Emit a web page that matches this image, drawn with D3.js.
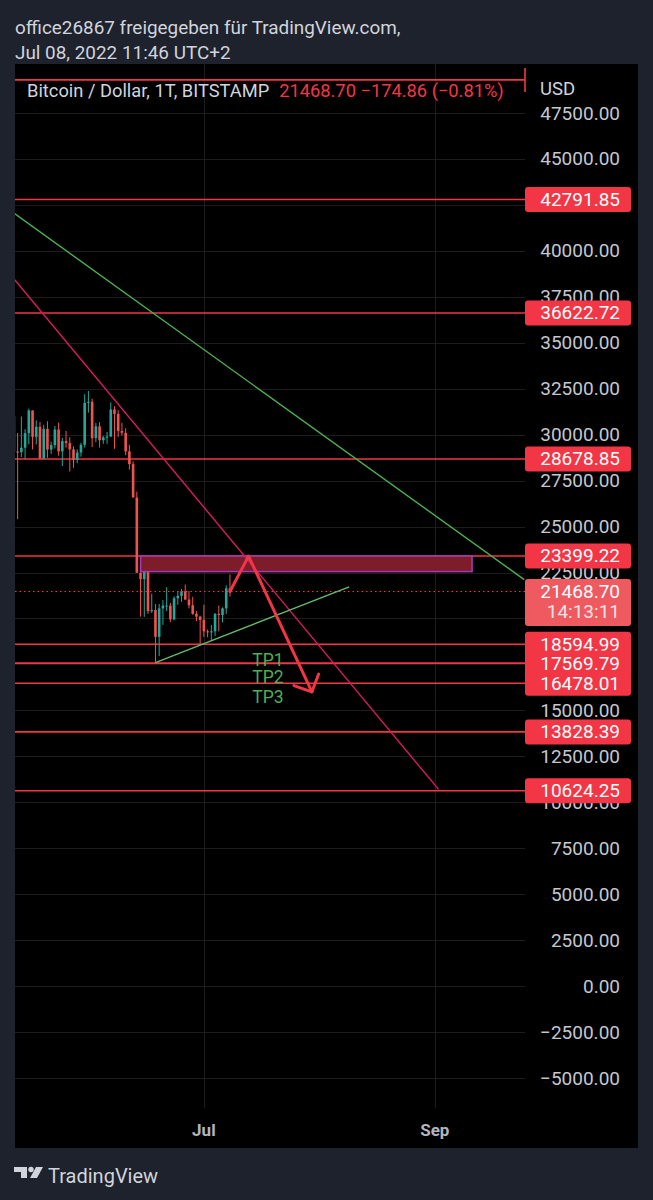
<!DOCTYPE html>
<html>
<head>
<meta charset="utf-8">
<script src="https://cdn.jsdelivr.net/npm/d3@7"></script>
<style>
  body { margin: 0; background: #1e222d; }
  svg { display: block; font-family: Roboto, "Noto Sans", sans-serif; }
</style>
</head>
<body>
<svg width="653" height="1200"></svg>
<script>
// daily candles, BTC/USD Bitstamp
const dates = [
  "2022-05-11","2022-05-12","2022-05-13","2022-05-14","2022-05-15","2022-05-16","2022-05-17","2022-05-18",
  "2022-05-19","2022-05-20","2022-05-21","2022-05-22","2022-05-23","2022-05-24","2022-05-25","2022-05-26",
  "2022-05-27","2022-05-28","2022-05-29","2022-05-30","2022-05-31","2022-06-01","2022-06-02","2022-06-03",
  "2022-06-04","2022-06-05","2022-06-06","2022-06-07","2022-06-08","2022-06-09","2022-06-10","2022-06-11",
  "2022-06-12","2022-06-13","2022-06-14","2022-06-15","2022-06-16","2022-06-17","2022-06-18","2022-06-19",
  "2022-06-20","2022-06-21","2022-06-22","2022-06-23","2022-06-24","2022-06-25","2022-06-26","2022-06-27",
  "2022-06-28","2022-06-29","2022-06-30","2022-07-01","2022-07-02","2022-07-03","2022-07-04","2022-07-05",
  "2022-07-06","2022-07-07","2022-07-08"
];
const open = [
  31010,29080,29050,29290,30080,31320,29880,30430,28700,30310,29190,29430,30280,29090,29650,29540,
  29200,28620,29030,29450,31730,31790,29810,30450,29700,29850,29900,31370,31130,30200,30100,29090,
  28400,26580,22480,22140,22600,20400,20460,19000,20550,20700,20700,19950,21100,21230,21480,21030,
  20720,20250,20100,19920,19300,19250,19300,20250,20190,20550,21640
];
const high = [
  32190,30100,30990,30300,31420,31320,30780,30690,30540,30730,29620,30470,30660,29820,30200,29860,
  29360,29200,29560,32200,32380,31950,30640,30680,29930,30150,31760,31550,31330,30650,30350,29450,
  28550,26900,23300,22750,22980,21350,20780,20790,21000,21700,20850,21200,21500,21600,21850,21500,
  21180,20400,20150,20750,19400,19650,20300,20700,20600,21800,22400
];
const low = [
  27800,25400,28780,28650,29480,29200,29470,28700,28660,28740,28950,29250,28860,28300,29300,28000,
  28200,28450,28800,29300,31200,29320,29590,29300,29500,29500,29880,29230,29880,29950,28880,28100,
  26600,22600,20100,20090,20250,20300,17600,17950,19650,20400,19800,19900,20750,20900,21000,20550,
  20200,19850,18620,19000,18980,18800,19050,19300,19780,20250,21200
];
const close = [
  29080,29050,29290,30080,31320,29880,30430,28700,30310,29190,29430,30280,29090,29650,29540,29200,
  28620,29030,29450,31730,31790,29810,30450,29700,29850,29900,31370,31130,30200,30100,29090,28400,
  26580,22480,22140,22600,20400,20460,19000,20550,20700,20700,19950,21100,21230,21480,21030,20720,
  20250,20100,19920,19300,19250,19300,20250,20190,20550,21640,21468.70
];

const priceTicks = [47500,45000,42500,40000,37500,35000,32500,30000,27500,25000,22500,20000,17500,
  15000,12500,10000,7500,5000,2500,0,-2500,-5000];
const monthTicks = ["2022-07-01","2022-09-01"];
const monthLabels = ["Jul","Sep"];

// horizontal levels drawn by the author
const levels = [42791.85,36622.72,28678.85,23399.22,18594.99,17569.79,16478.01,13828.39,10624.25];
const topLevel = 49300;
const lastPrice = 21468.70;
const countdown = "14:13:11";

// trend lines [date, price]
const redTrend = [["2022-05-11",38480],["2022-09-02",10700]];
const greenTrend = [["2022-05-11",42050],["2022-09-25",22115]];
const supportTrend = [["2022-06-18",17600],["2022-08-09",21720]];
const zone = {from:"2022-06-14", to:"2022-09-11", top:23399.22, bottom:22550};
const arrowPts = [["2022-07-08",21468.70],["2022-07-13",23390],["2022-07-30",16010]];
const tpNames = ["TP1","TP2","TP3"];
const tpPrices = [17410,16480,15400];
const tpDate = "2022-07-14";

const parse = d3.utcParse("%Y-%m-%d");
const svg = d3.select("svg");

const panel = {left:15, right:638, top:64, bottom:1148};
const plotRight = 525;

const x = d3.scaleUtc()
  .domain([new Date(Date.UTC(2022,4,11,7)), new Date(Date.UTC(2022,8,25,5))])
  .range([panel.left, plotRight]);
const y = d3.scaleLinear().domain([-5000, 47500]).range([1078, 113]);

// header
svg.append("text").attr("x", 15).attr("y", 34).attr("fill", "#d1d4dc")
  .attr("font-size", 18.9).text("office26867 freigegeben für TradingView.com,");
svg.append("text").attr("x", 15).attr("y", 59).attr("fill", "#d1d4dc")
  .attr("font-size", 18.9).text("Jul 08, 2022 11:46 UTC+2");

svg.append("rect").attr("x", panel.left).attr("y", panel.top)
  .attr("width", panel.right - panel.left).attr("height", panel.bottom - panel.top)
  .attr("fill", "#000");

svg.append("clipPath").attr("id", "plot").append("rect")
  .attr("x", panel.left).attr("y", panel.top)
  .attr("width", plotRight - panel.left).attr("height", 1108 - panel.top);

// grid
const grid = svg.append("g").attr("stroke", "#1c1c1e").attr("stroke-width", 1);
grid.selectAll(".h").data(priceTicks).join("line")
  .attr("x1", panel.left).attr("x2", plotRight)
  .attr("y1", d => Math.round(y(d)) + 0.5).attr("y2", d => Math.round(y(d)) + 0.5);
grid.selectAll(".v").data(monthTicks).join("line")
  .attr("x1", d => Math.round(x(parse(d))) + 0.5).attr("x2", d => Math.round(x(parse(d))) + 0.5)
  .attr("y1", panel.top).attr("y2", 1108);

// price axis labels
svg.append("g").selectAll("text").data(priceTicks).join("text")
  .attr("x", 620).attr("y", d => y(d) + 6.5)
  .attr("text-anchor", "end").attr("fill", "#c4c7ce").attr("font-size", 19)
  .text(d => d < 0 ? "\u2212" + d3.format(".2f")(-d) : d3.format(".2f")(d));

// time axis labels
svg.append("g").selectAll("text").data(monthTicks).join("text")
  .attr("x", d => x(parse(d))).attr("y", 1136)
  .attr("text-anchor", "middle").attr("fill", "#b2b5be").attr("font-size", 17)
  .attr("font-weight", "bold")
  .text((d, i) => monthLabels[i]);

const plot = svg.append("g").attr("clip-path", "url(#plot)");

// levels
plot.selectAll(".lvl").data(levels).join("line")
  .attr("x1", panel.left).attr("x2", plotRight)
  .attr("y1", d => y(d)).attr("y2", d => y(d))
  .attr("stroke", "#f23645").attr("stroke-width", 1.6);

// candles
const candles = dates.map((d, i) => ({date: parse(d), o: open[i], h: high[i], l: low[i], c: close[i]}));
const cg = plot.append("g").selectAll("g").data(candles).join("g")
  .attr("fill", d => d.c >= d.o ? "#26a69a" : "#ef5350")
  .attr("stroke", d => d.c >= d.o ? "#26a69a" : "#ef5350");
cg.append("line")
  .attr("x1", d => x(d.date)).attr("x2", d => x(d.date))
  .attr("y1", d => y(d.h)).attr("y2", d => y(d.l)).attr("stroke-width", 1);
cg.append("rect")
  .attr("x", d => x(d.date) - 1.3).attr("width", 2.6)
  .attr("y", d => y(Math.max(d.o, d.c)))
  .attr("height", d => Math.max(1, Math.abs(y(d.o) - y(d.c))))
  .attr("stroke", "none");

// last price dotted line
plot.append("line")
  .attr("x1", panel.left).attr("x2", plotRight)
  .attr("y1", y(lastPrice)).attr("y2", y(lastPrice))
  .attr("stroke", "#f23645").attr("stroke-width", 1.2).attr("stroke-dasharray", "1.5,3");

// zone
plot.append("rect")
  .attr("x", x(parse(zone.from))).attr("width", x(parse(zone.to)) - x(parse(zone.from)))
  .attr("y", y(zone.top)).attr("height", y(zone.bottom) - y(zone.top))
  .attr("fill", "#7d1d2a").attr("stroke", "#a73ab8").attr("stroke-width", 1.5);

const line = d3.line().x(d => x(parse(d[0]))).y(d => y(d[1]));

plot.append("path").attr("d", line(redTrend)).attr("fill", "none")
  .attr("stroke", "#d81b60").attr("stroke-width", 1.4);
plot.append("path").attr("d", line(greenTrend)).attr("fill", "none")
  .attr("stroke", "#4caf50").attr("stroke-width", 1.4);
plot.append("path").attr("d", line(supportTrend)).attr("fill", "none")
  .attr("stroke", "#66bb6a").attr("stroke-width", 1.4);

// arrow
plot.append("path").attr("d", line(arrowPts)).attr("fill", "none")
  .attr("stroke", "#f23645").attr("stroke-width", 3).attr("stroke-linejoin", "round")
  .attr("stroke-linecap", "round");
const p1 = arrowPts[1], p2 = arrowPts[2];
const tx = x(parse(p2[0])), ty = y(p2[1]);
const ang = Math.atan2(y(p1[1]) - ty, x(parse(p1[0])) - tx);
const head = [-0.8, 0.8].map(a => [tx + 19 * Math.cos(ang + a), ty + 19 * Math.sin(ang + a)]);
plot.append("path")
  .attr("d", `M${head[0]}L${tx},${ty}L${head[1]}`).attr("fill", "none")
  .attr("stroke", "#f23645").attr("stroke-width", 3).attr("stroke-linejoin", "round")
  .attr("stroke-linecap", "round");

// TP labels
plot.selectAll(".tp").data(tpNames).join("text")
  .attr("x", x(parse(tpDate))).attr("y", (d, i) => y(tpPrices[i]))
  .attr("fill", "#4caf50").attr("font-size", 17.5).text(d => d);

// top line with tick
svg.append("line").attr("x1", panel.left).attr("x2", plotRight)
  .attr("y1", y(topLevel)).attr("y2", y(topLevel))
  .attr("stroke", "#f23645").attr("stroke-width", 1.6);
svg.append("line").attr("x1", plotRight).attr("x2", plotRight)
  .attr("y1", y(topLevel) - 12).attr("y2", y(topLevel) + 12)
  .attr("stroke", "#f23645").attr("stroke-width", 1.6);

// legend
const legend = svg.append("text").attr("x", 27).attr("y", 97).attr("font-size", 18.3);
legend.append("tspan").attr("fill", "#d1d4dc").text("Bitcoin / Dollar, 1T, BITSTAMP");
legend.append("tspan").attr("fill", "#f23645").attr("dx", 10)
  .text(d3.format(".2f")(lastPrice) + "  \u2212174.86 (\u22120.81%)");
svg.append("text").attr("x", 540).attr("y", 95).attr("fill", "#d1d4dc")
  .attr("font-size", 18.5).text("USD");

// level labels
const lab = svg.append("g").selectAll("g").data(levels).join("g");
lab.append("rect").attr("x", plotRight).attr("width", 106)
  .attr("y", d => y(d) - 12.5).attr("height", 25).attr("rx", 3).attr("fill", "#f23645");
lab.append("text").attr("x", 620).attr("y", d => y(d) + 6.5).attr("text-anchor", "end")
  .attr("fill", "#fff").attr("font-size", 19).text(d => d3.format(".2f")(d));

// last price label
svg.append("rect").attr("x", plotRight).attr("width", 106)
  .attr("y", y(lastPrice) - 12.5).attr("height", 47).attr("rx", 3).attr("fill", "#ee5a5f");
svg.append("text").attr("x", 620).attr("y", y(lastPrice) + 6.5).attr("text-anchor", "end")
  .attr("fill", "#fff").attr("font-size", 19).text(d3.format(".2f")(lastPrice));
svg.append("text").attr("x", 620).attr("y", y(lastPrice) + 26.5).attr("text-anchor", "end")
  .attr("fill", "#fbe3e4").attr("font-size", 19).text(countdown);

// footer logo
const logo = svg.append("g").attr("fill", "#d1d4dc");
logo.append("path").attr("d", "M14,1167h13v11h-6v-6h-7z");
logo.append("circle").attr("cx", 31).attr("cy", 1169.5).attr("r", 2.7);
logo.append("path").attr("d", "M36,1167h7l-6,11h-7z");
svg.append("text").attr("x", 48).attr("y", 1183).attr("fill", "#d1d4dc")
  .attr("font-size", 20).text("TradingView");
</script>
</body>
</html>
